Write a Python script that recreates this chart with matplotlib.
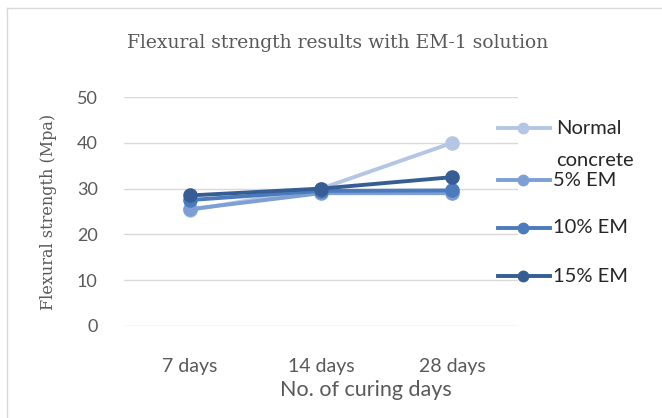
import matplotlib
matplotlib.use("Agg")
import matplotlib.pyplot as plt
from matplotlib.lines import Line2D

# curing ages and flexural strength (MPa) for each mix
days = ["7 days", "14 days", "28 days"]
normal_concrete = [25.3, 30.0, 40.0]
em_5 = [25.5, 29.0, 29.0]
em_10 = [27.5, 29.5, 29.6]
em_15 = [28.5, 30.0, 32.5]

series = [
    ("Normal\nconcrete", normal_concrete, "#b4c6e4"),
    ("5% EM", em_5, "#7e9fd3"),
    ("10% EM", em_10, "#4c7bbd"),
    ("15% EM", em_15, "#365e94"),
]

fig = plt.figure(figsize=(6.62, 4.18), dpi=100)
ax = fig.add_axes([124 / 662, 1 - 326 / 418, 394 / 662, 229 / 418])

x = range(len(days))
for label, vals, color in series:
    ax.plot(x, vals, color=color, lw=2.8, marker="o", ms=9.5,
            solid_capstyle="round", zorder=3)

ax.set_ylim(0, 50)
ax.set_xlim(-0.5, 2.5)
ax.set_yticks(range(0, 51, 10))
ax.set_xticks(list(x))
ax.set_xticklabels(days)
ax.grid(axis="y", color="#d9d9d9", lw=1)
ax.set_axisbelow(True)
for s in ax.spines.values():
    s.set_visible(False)
ax.tick_params(length=0, labelcolor="#595959")
ax.tick_params(axis="y", pad=19, labelsize=13)
ax.tick_params(axis="x", pad=23, labelsize=14)
for t in ax.get_xticklabels() + ax.get_yticklabels():
    t.set_family("Lato")

ax.set_xlabel("No. of curing days", fontsize=15.5, color="#595959",
              family="Lato")
ax.xaxis.set_label_coords(0.614, -0.235)
ax.set_ylabel("Flexural strength (Mpa)", fontsize=11.5, color="#595959",
              family="DejaVu Serif", labelpad=14)
fig.text(338 / 662, 1 - 43 / 418, "Flexural strength results with EM-1 solution",
         ha="center", va="center", fontsize=13.5, color="#595959",
         family="DejaVu Serif")

# legend drawn by hand on the right side
leg_y = [128, 180, 228, 276]
for (label, vals, color), y in zip(series, leg_y):
    yf = 1 - y / 418
    fig.add_artist(Line2D([498 / 662, 550 / 662], [yf, yf], color=color, lw=2.8,
                          transform=fig.transFigure))
    fig.add_artist(Line2D([523 / 662], [yf], color=color, marker="o", ms=7.5,
                          transform=fig.transFigure))
    if "\n" in label:
        first, second = label.split("\n")
        fig.text(556 / 662, yf, first, va="center", ha="left", fontsize=14.5,
                 color="#262626", family="Lato")
        fig.text(556 / 662, 1 - 160 / 418, second, va="center", ha="left",
                 fontsize=14.5, color="#262626", family="Lato")
    else:
        fig.text(553 / 662, yf, label, va="center", ha="left", fontsize=14.5,
                 color="#262626", family="Lato")

# chart area border
fig.add_artist(Line2D([7 / 662, 7 / 662], [0, 1 - 8 / 418], color="#d9d9d9",
                      lw=1, transform=fig.transFigure))
fig.add_artist(Line2D([7 / 662, 1], [1 - 8 / 418, 1 - 8 / 418], color="#d9d9d9",
                      lw=1, transform=fig.transFigure))

fig.savefig("out.png", dpi=100)
